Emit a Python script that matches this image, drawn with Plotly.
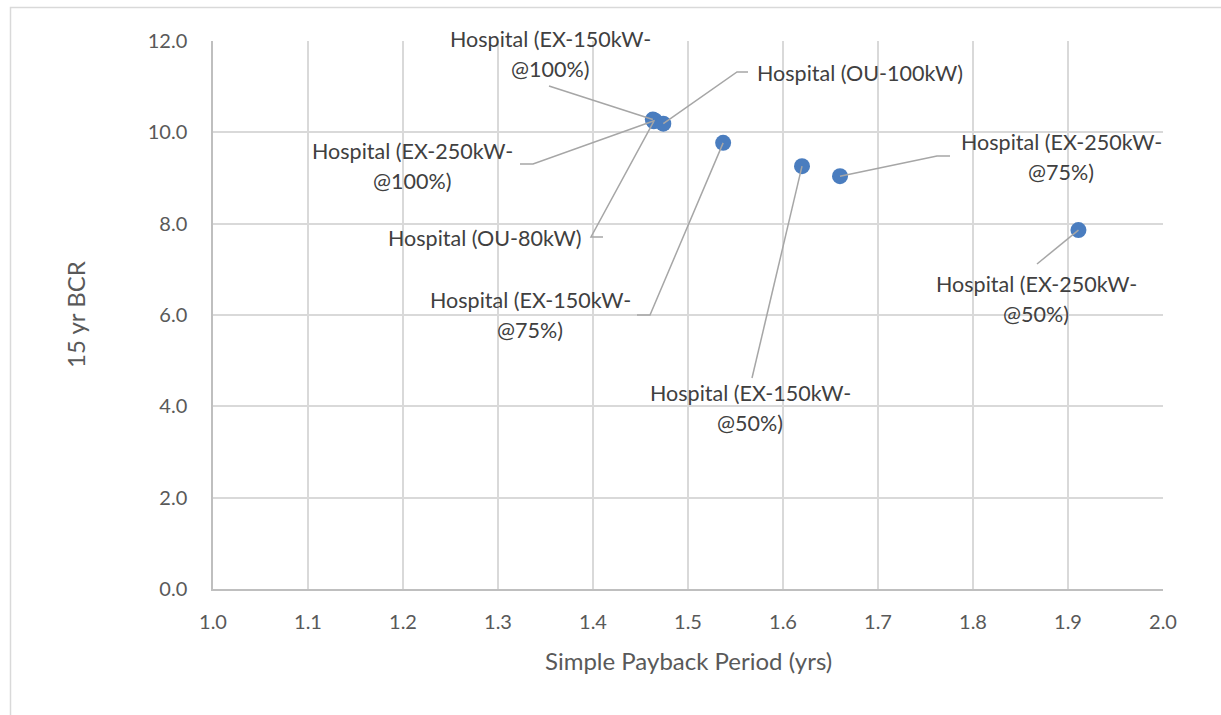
import plotly.graph_objects as go

# ---- data ----
labels = [
    "Hospital (EX-150kW-<br>@100%)",
    "Hospital (EX-250kW-<br>@100%)",
    "Hospital (OU-80kW)",
    "Hospital (OU-100kW)",
    "Hospital (EX-150kW-<br>@75%)",
    "Hospital (EX-150kW-<br>@50%)",
    "Hospital (EX-250kW-<br>@75%)",
    "Hospital (EX-250kW-<br>@50%)",
]
payback = [1.463, 1.465, 1.464, 1.474, 1.537, 1.620, 1.660, 1.911]
bcr = [10.28, 10.26, 10.24, 10.19, 9.77, 9.26, 9.04, 7.86]

x_ticks = [1.0, 1.1, 1.2, 1.3, 1.4, 1.5, 1.6, 1.7, 1.8, 1.9, 2.0]
y_ticks = [0.0, 2.0, 4.0, 6.0, 8.0, 10.0, 12.0]

# ---- layout constants (pixels) ----
W, H = 1221, 715
ML, MR, MT, MB = 213, 58, 41, 126
PW, PH = W - ML - MR, H - MT - MB
XR, YR = (1.0, 2.0), (0.0, 12.0)


def px2x(px):
    return XR[0] + (px - ML) / PW * (XR[1] - XR[0])


def px2y(py):
    return YR[0] + (MT + PH - py) / PH * (YR[1] - YR[0])


# label text centers (pixels) and leader line waypoints (pixels, from label side)
label_pos = [(550, 54), (412, 166), (485, 238), (860, 73),
             (530, 315), (750, 408), (1061, 157), (1036, 299)]
leader_pts = [
    [(549, 86)],
    [(520, 164), (533, 164)],
    [(603, 237), (591, 237)],
    [(748, 72), (737, 72)],
    [(637, 315), (650, 315)],
    [(752, 378)],
    [(950, 156), (937, 156)],
    [(1037, 264)],
]

FONT = "Lato, Carlito, Calibri, sans-serif"
GREY = "#595959"
GRID = "#d9d9d9"

fig = go.Figure()

shapes = []
annotations = []
for i, lab in enumerate(labels):
    pts = leader_pts[i]
    path = ""
    for j, (px, py) in enumerate(pts):
        path += ("M" if j == 0 else " L") + f" {px2x(px)},{px2y(py)}"
    path += f" L {payback[i]},{bcr[i]}"
    shapes.append(dict(type="path", path=path, xref="x", yref="y",
                       line=dict(color="#a6a6a6", width=1.5), layer="above"))
    lines = lab.split("<br>")
    n = len(lines)
    cx, cy = label_pos[i]
    for k, t in enumerate(lines):
        annotations.append(dict(
            x=px2x(cx), y=px2y(cy), xref="x", yref="y", text=t,
            showarrow=False, xanchor="center", yanchor="middle",
            yshift=-(k - (n - 1) / 2) * 30,
            font=dict(family=FONT, size=21.5, color="#404040")))

fig.add_trace(go.Scatter(
    x=payback, y=bcr, mode="markers",
    marker=dict(size=16, color="#4a7dbf"),
    text=[l.replace("<br>", " ") for l in labels],
    hoverinfo="text+x+y", showlegend=False))

# outer chart frame (left and top edges)
shapes.append(dict(type="rect", xref="paper", yref="paper",
                   x0=(10.5 - ML) / PW, x1=(W + 20 - ML) / PW,
                   y0=-(H + 20 - MT - PH) / PH, y1=1 + (MT - 7.5) / PH,
                   line=dict(color=GRID, width=1.5), layer="below"))

# axis titles
annotations.append(dict(text="Simple Payback Period (yrs)", xref="paper", yref="paper",
                        x=(688 - ML) / PW, y=-(660 - MT - PH) / PH, showarrow=False,
                        xanchor="center", yanchor="middle",
                        font=dict(family=FONT, size=24, color=GREY)))
annotations.append(dict(text="15 yr BCR", xref="paper", yref="paper",
                        x=(75 - ML) / PW, y=0.5, showarrow=False, textangle=-90,
                        xanchor="center", yanchor="middle",
                        font=dict(family=FONT, size=24, color=GREY)))

fig.update_layout(
    width=W, height=H,
    margin=dict(l=ML, r=MR, t=MT, b=MB),
    paper_bgcolor="white", plot_bgcolor="white",
    shapes=shapes, annotations=annotations,
    xaxis=dict(range=list(XR), tickvals=x_ticks,
               ticktext=[f"{v:.1f}" for v in x_ticks],
               showgrid=True, gridcolor=GRID, gridwidth=1.5,
               showline=True, linecolor="#bfbfbf", linewidth=1.5,
               zeroline=False, ticks="", ticklabelstandoff=14,
               tickfont=dict(family=FONT, size=20, color=GREY)),
    yaxis=dict(range=list(YR), tickvals=y_ticks,
               ticktext=[f"{v:.1f}" for v in y_ticks],
               showgrid=True, gridcolor=GRID, gridwidth=1.5,
               showline=True, linecolor="#bfbfbf", linewidth=1.5,
               zeroline=False, ticks="", ticklabelstandoff=20,
               tickfont=dict(family=FONT, size=20, color=GREY)),
)

fig.write_html("out.html")
